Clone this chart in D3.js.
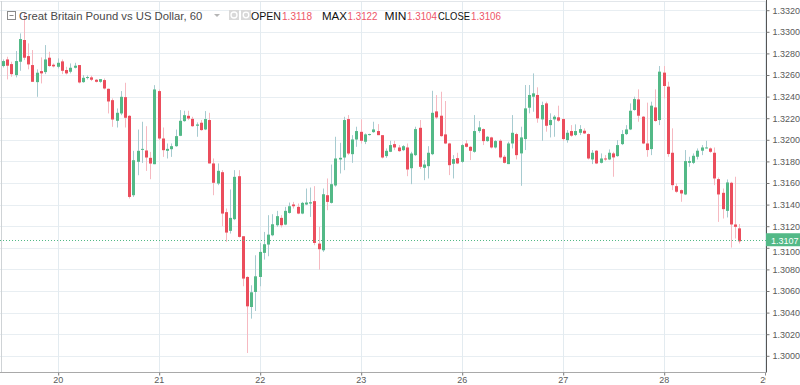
<!DOCTYPE html>
<html><head><meta charset="utf-8">
<script src="https://cdn.jsdelivr.net/npm/d3@7"></script>
<style>body{margin:0;background:#fff;overflow:hidden}svg{display:block}</style>
</head><body><svg id="c" width="800" height="385"></svg>
<script>
// ---- DATA (GBP/USD hourly candles, first candle = 19th 11:00) ----
const openV = [1.32683,1.32744,1.32701,1.32599,1.32723,1.32924,1.32775,1.32692,1.32534,1.32636,1.32627,1.32760,1.32695,1.32676,1.32726,1.32646,1.32630,1.32667,1.32692,1.32534,1.32574,1.32578,1.32556,1.32537,1.32553,1.32472,1.32367,1.32176,1.32244,1.32395,1.32222,1.31487,1.31796,1.31907,1.31901,1.31833,1.31774,1.32451,1.32012,1.31898,1.31913,1.31941,1.32037,1.32173,1.32222,1.32194,1.32130,1.32158,1.32096,1.32183,1.31781,1.31595,1.31700,1.31330,1.31157,1.31265,1.31663,1.31107,1.30730,1.30452,1.30591,1.30730,1.30953,1.31030,1.31116,1.31209,1.31277,1.31215,1.31323,1.31401,1.31379,1.31317,1.31401,1.31410,1.31432,1.31039,1.30977,1.31487,1.31416,1.31577,1.31818,1.31836,1.32192,1.31867,1.32003,1.32074,1.31982,1.32047,1.32071,1.32081,1.32043,1.31849,1.31889,1.31960,1.31929,1.31904,1.31929,1.31737,1.31858,1.32111,1.31741,1.31756,1.31867,1.32263,1.32223,1.32050,1.31966,1.31778,1.31830,1.31796,1.31966,1.31935,1.31889,1.32081,1.32099,1.31988,1.32022,1.31929,1.31991,1.31843,1.31775,1.31966,1.32053,1.31874,1.32007,1.32297,1.32399,1.32415,1.32189,1.32337,1.32136,1.32189,1.32208,1.32192,1.31997,1.32081,1.32044,1.32065,1.32084,1.32053,1.31818,1.31899,1.31787,1.31827,1.31818,1.31874,1.31849,1.31960,1.32053,1.32096,1.32276,1.32374,1.32214,1.31966,1.31914,1.32300,1.32183,1.32622,1.32492,1.31880,1.31571,1.31534,1.31494,1.31787,1.31787,1.31843,1.31899,1.31923,1.31920,1.31880,1.31636,1.31509,1.31342,1.31602,1.31216,1.3118];
const highV = [1.32744,1.32769,1.32723,1.32822,1.32985,1.3318,1.32893,1.32831,1.32652,1.32763,1.32877,1.32815,1.32707,1.32754,1.32744,1.32676,1.32707,1.32713,1.32692,1.32599,1.32596,1.32593,1.32562,1.32562,1.32568,1.32475,1.32383,1.32290,1.32451,1.32528,1.32228,1.31898,1.32095,1.32167,1.32126,1.31888,1.32506,1.32466,1.32114,1.31966,1.31966,1.32095,1.32275,1.32269,1.32269,1.32213,1.32161,1.32183,1.32266,1.32250,1.31827,1.31781,1.31719,1.31364,1.31540,1.31719,1.31719,1.31107,1.30736,1.30653,1.30931,1.31045,1.31147,1.31302,1.31311,1.31342,1.31302,1.31379,1.31419,1.31425,1.31410,1.31425,1.31549,1.31558,1.31571,1.31194,1.31549,1.31642,1.31771,1.32028,1.31972,1.32213,1.32229,1.32043,1.32121,1.32189,1.32059,1.32056,1.32167,1.32145,1.32043,1.31920,1.31991,1.31991,1.31951,1.31951,1.31966,1.31889,1.32121,1.32183,1.31812,1.31941,1.32454,1.32414,1.32445,1.32359,1.31972,1.31858,1.31880,1.31960,1.31997,1.31941,1.32229,1.32173,1.32105,1.32034,1.32028,1.31997,1.32004,1.31858,1.31982,1.32229,1.32065,1.32121,1.32507,1.32507,1.32615,1.32486,1.32353,1.32353,1.32245,1.32229,1.32316,1.32198,1.32090,1.32136,1.32143,1.32136,1.32106,1.32059,1.31905,1.31905,1.31874,1.31858,1.31911,1.31889,1.31997,1.32090,1.32136,1.32337,1.32399,1.32467,1.32220,1.32344,1.32353,1.32467,1.32683,1.32683,1.32538,1.32106,1.31596,1.31540,1.31905,1.31843,1.31874,1.31920,1.31951,1.31991,1.31929,1.31929,1.31651,1.31549,1.31633,1.31611,1.31658,1.3122];
const lowV = [1.32670,1.32559,1.32584,1.32578,1.32639,1.32738,1.32652,1.32537,1.32398,1.32522,1.32608,1.32676,1.32670,1.32661,1.32608,1.32605,1.32615,1.32661,1.32522,1.32528,1.32559,1.32544,1.32531,1.32528,1.32466,1.32244,1.32120,1.32114,1.32228,1.32114,1.31456,1.31471,1.31672,1.31786,1.31712,1.31635,1.31774,1.31997,1.31842,1.31827,1.31842,1.31935,1.32034,1.32167,1.32182,1.32120,1.32028,1.32084,1.32090,1.31781,1.31487,1.31580,1.31200,1.31055,1.31132,1.31256,1.31095,1.30644,1.30026,1.30344,1.30415,1.30644,1.30891,1.30922,1.31107,1.31194,1.31188,1.31209,1.31317,1.31364,1.31311,1.31311,1.31395,1.31286,1.31024,1.30798,1.30962,1.31348,1.31410,1.31565,1.31688,1.31719,1.31858,1.31787,1.31935,1.31966,1.31960,1.32040,1.32065,1.32043,1.31827,1.31833,1.31886,1.31904,1.31889,1.31895,1.31663,1.31589,1.31849,1.31731,1.31626,1.31642,1.31858,1.32192,1.32028,1.31960,1.31673,1.31642,1.31775,1.31787,1.31929,1.31812,1.31880,1.32065,1.31951,1.31982,1.31920,1.31920,1.31827,1.31781,1.31775,1.31920,1.31818,1.31574,1.31905,1.32245,1.32260,1.32158,1.31991,1.32075,1.32022,1.32028,1.32167,1.31991,1.31973,1.32028,1.32034,1.32044,1.32053,1.31818,1.31775,1.31775,1.31781,1.31806,1.31812,1.31658,1.31843,1.31951,1.32044,1.32090,1.32269,1.32167,1.31960,1.31843,1.31858,1.32167,1.32136,1.32384,1.31843,1.31534,1.31509,1.31426,1.31488,1.31750,1.31775,1.31818,1.31858,1.31920,1.31880,1.31580,1.31240,1.31271,1.31281,1.31002,1.31086,1.3104];
const closeV = [1.32729,1.32686,1.32608,1.32729,1.32933,1.32760,1.32698,1.32537,1.32621,1.32615,1.32744,1.32683,1.32680,1.32713,1.32639,1.32615,1.32667,1.32686,1.32531,1.32574,1.32581,1.32556,1.32537,1.32562,1.32475,1.32355,1.32188,1.32250,1.32398,1.32204,1.31471,1.31811,1.31898,1.31916,1.31836,1.31780,1.32466,1.32012,1.31904,1.31916,1.31941,1.32034,1.32176,1.32228,1.32197,1.32126,1.32142,1.32090,1.32192,1.31781,1.31602,1.31713,1.31317,1.31141,1.31277,1.31657,1.31101,1.30715,1.30458,1.30588,1.30736,1.30962,1.31033,1.31122,1.31218,1.31293,1.31209,1.31342,1.31385,1.31385,1.31317,1.31416,1.31419,1.31422,1.31045,1.30987,1.31496,1.31425,1.31589,1.31827,1.31833,1.32183,1.31873,1.32003,1.32081,1.31991,1.32050,1.32053,1.32096,1.32043,1.31836,1.31898,1.31951,1.31929,1.31895,1.31941,1.31725,1.31873,1.32099,1.31750,1.31771,1.31880,1.32250,1.32207,1.32034,1.31966,1.31765,1.31821,1.31781,1.31951,1.31935,1.31898,1.32081,1.32115,1.31988,1.32028,1.31929,1.31988,1.31837,1.31787,1.31966,1.32065,1.31858,1.32022,1.32291,1.32415,1.32430,1.32198,1.32322,1.32130,1.32183,1.32214,1.32177,1.32007,1.32065,1.32038,1.32081,1.32099,1.32059,1.31827,1.31880,1.31781,1.31827,1.31818,1.31880,1.31837,1.31951,1.32053,1.32096,1.32269,1.32377,1.32223,1.31966,1.31905,1.32316,1.32174,1.32631,1.32498,1.31868,1.31580,1.31519,1.31503,1.31803,1.31803,1.31852,1.31899,1.31929,1.31929,1.31889,1.31642,1.31494,1.31358,1.31605,1.31216,1.31194,1.3106];
const firstCandleHour = 11;            // first candle: 19th, 11:00
const dayLabels = ["20","21","22","23","26","27","28","29"];
const yTickValues = [1.3000,1.3020,1.3040,1.3060,1.3080,1.3100,1.3120,1.3140,1.3160,1.3180,1.3200,1.3220,1.3240,1.3260,1.3280,1.3300,1.3320];
const lastPrice = 1.3107;
const titleText = "Great Britain Pound vs US Dollar, 60";
const legendLabels = ["OPEN","MAX","MIN","CLOSE"];
const legendValues = ["1.3118","1.3122","1.3104","1.3106"];

// ---- DRAWING ----
const W = 800, H = 385, plotR = 766, plotB = 372;
const upC = "#53b987", downC = "#eb4d5c", upWick = "#a7cbd0", downWick = "#f6b9c1";
const font = "'Liberation Sans', Arial, sans-serif";
const svg = d3.select("#c");

const firstDayIdx = 24 - firstCandleHour;
const x = d3.scaleLinear().domain([firstDayIdx, firstDayIdx + 6*24]).range([57.7, 663.7]);
const y = d3.scaleLinear().domain([1.3000, 1.3320]).range([355.8, 10.2]);

const candles = openV.map((o,i)=>({i, o, h:highV[i], l:lowV[i], c:closeV[i]}));
const dayIdx = dayLabels.map((d,j)=>firstDayIdx + 24*j);

svg.append("defs").append("clipPath").attr("id","plot")
  .append("rect").attr("x",0).attr("y",0).attr("width",plotR).attr("height",H);

// grid
const grid = svg.append("g");
grid.selectAll("line.h").data(yTickValues).enter().append("line")
  .attr("x1",0).attr("x2",plotR).attr("y1",d=>Math.round(y(d))+0.5).attr("y2",d=>Math.round(y(d))+0.5)
  .attr("stroke","#e8eef2").attr("stroke-width",1);
grid.selectAll("line.v").data(dayIdx).enter().append("line")
  .attr("x1",d=>Math.round(x(d))+0.5).attr("x2",d=>Math.round(x(d))+0.5).attr("y1",2).attr("y2",plotB)
  .attr("stroke","#e3ebf0").attr("stroke-width",1);
// top & left border
svg.append("line").attr("x1",0).attr("x2",plotR).attr("y1",1.5).attr("y2",1.5).attr("stroke","#e2e6ea");
svg.append("line").attr("x1",1.5).attr("x2",1.5).attr("y1",1).attr("y2",plotB).attr("stroke","#cfd3d6");

// candles
const cg = svg.append("g").attr("clip-path","url(#plot)");
cg.selectAll("line.w").data(candles).enter().append("line")
  .attr("x1",d=>Math.round(x(d.i))+0.5).attr("x2",d=>Math.round(x(d.i))+0.5)
  .attr("y1",d=>y(d.h)).attr("y2",d=>y(d.l))
  .attr("stroke",d=>d.c>=d.o?upWick:downWick).attr("stroke-width",1);
cg.selectAll("rect.b").data(candles).enter().append("rect")
  .attr("x",d=>Math.round(x(d.i))-1).attr("width",3)
  .attr("y",d=>y(Math.max(d.o,d.c)))
  .attr("height",d=>Math.max(1, y(Math.min(d.o,d.c))-y(Math.max(d.o,d.c))))
  .attr("fill",d=>d.c>=d.o?upC:downC);

// last price line
svg.append("line").attr("x1",0).attr("x2",plotR)
  .attr("y1",Math.round(y(lastPrice))+0.5).attr("y2",Math.round(y(lastPrice))+0.5)
  .attr("stroke",upC).attr("stroke-width",1).attr("stroke-dasharray","1,2");

// right axis (the 1.3100 label sits partly under the price box, as in the original)
const ra = svg.append("g").attr("transform",`translate(${plotR+0.5},0)`)
  .call(d3.axisRight(y).tickValues(yTickValues).tickFormat(d3.format(".4f")).tickSize(3).tickPadding(3));
ra.select(".domain").attr("stroke","#555").attr("d",`M0,0V${plotB+0.5}`);
ra.selectAll(".tick line").attr("stroke","#777");
ra.selectAll(".tick text").attr("fill","#5a5a5a").style("font-family",font).style("font-size","9px")
  .attr("dy", d => Math.abs(d-lastPrice) < 0.0008 ? "0.75em" : "0.32em");

// bottom axis
const ba = svg.append("g").attr("transform",`translate(0,${plotB+0.5})`).attr("clip-path","url(#plot)")
  .call(d3.axisBottom(x).tickValues(dayIdx).tickFormat((d,j)=>dayLabels[j]).tickSize(3).tickPadding(1));
ba.select(".domain").attr("stroke","#555").attr("d",`M0,0H${plotR}`);
ba.selectAll(".tick line").attr("stroke","#777").attr("transform","translate(0.5,0)");
ba.selectAll(".tick text").attr("fill","#5a5a5a").style("font-family",font).style("font-size","9px");

// price label
const py = y(lastPrice);
svg.append("rect").attr("x",plotR).attr("y",py-7).attr("width",W-plotR).attr("height",13).attr("fill",upC);
svg.append("text").attr("x",plotR+5).attr("y",py+3.3).attr("fill","#fff")
  .style("font-family",font).style("font-size","9px").text(d3.format(".4f")(lastPrice));

// header
const hd = svg.append("g");
hd.append("rect").attr("x",7.5).attr("y",11.5).attr("width",8).attr("height",8).attr("fill","#fff").attr("stroke","#8a8a8a");
hd.append("line").attr("x1",9.5).attr("x2",13.5).attr("y1",15.5).attr("y2",15.5).attr("stroke","#8a8a8a");
hd.append("text").attr("x",19).attr("y",20).attr("fill","#4a4a4a")
  .style("font-family",font).style("font-size","11.3px").text(titleText);
hd.append("path").attr("d","M214,14 L220,14 L217,17 Z").attr("fill","#b5b5b5");
[229,241].forEach((cx,j)=>{
  hd.append("rect").attr("x",cx).attr("y",10).attr("width",10).attr("height",10).attr("fill","#d9d9d9");
  hd.append("circle").attr("cx",cx+5).attr("cy",15).attr("r",j?2.8:3).attr("fill","none").attr("stroke","#fff").attr("stroke-width",1.3);
});
const labX = [251,322,384.5,438], valX = [282,347.5,407,471];
const labW = [30,25,22,32], valW = [30,30,30,30];
legendLabels.forEach((l,j)=>{
  hd.append("text").attr("x",labX[j]).attr("y",20).attr("fill","#111").style("font-family",font).style("font-size","10.5px")
    .attr("textLength",labW[j]).attr("lengthAdjust","spacingAndGlyphs").text(l);
  hd.append("text").attr("x",valX[j]).attr("y",20).attr("fill","#ee5568").style("font-family",font).style("font-size","10.5px")
    .attr("textLength",valW[j]).attr("lengthAdjust","spacingAndGlyphs").text(legendValues[j]);
});
</script></body></html>
